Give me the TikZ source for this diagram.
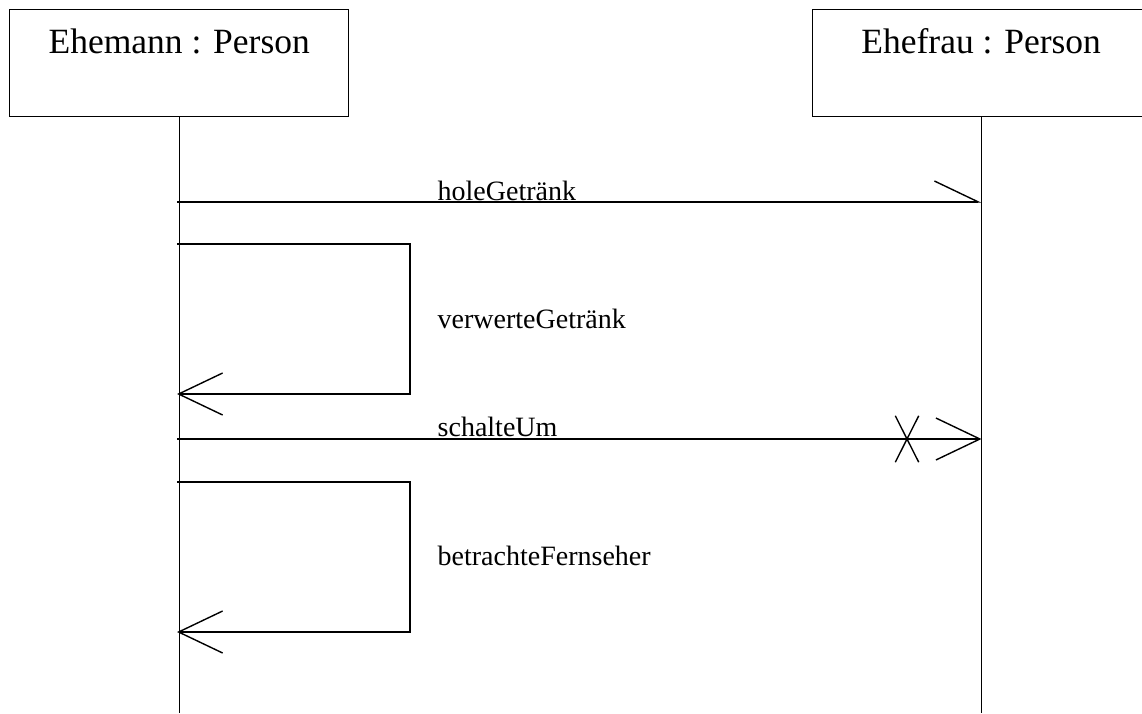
\documentclass[tikz,border=0pt]{standalone}
\usepackage{fontspec}
\setmainfont{Liberation Serif}
\usetikzlibrary{arrows.meta,positioning,shapes.misc}

\begin{document}
\begin{tikzpicture}[x=1pt,y=-1pt,line width=1.4pt,every node/.style={inner sep=0pt},
    objbox/.style={draw,anchor=north west,minimum height=107,text height=44,
      text depth=63,font=\fontsize{35.5}{40}\selectfont},
    msg/.style={anchor=base west,font=\fontsize{28}{30}\selectfont},
    open/.style={-{Straight Barb[length=44pt,width=42pt]}},
    half/.style={-{Straight Barb[left,length=44pt,width=42pt]}}]
    \useasboundingbox(0,0)rectangle(1142,713);
    \node[objbox,minimum width=339](mann)at(9,9){Ehemann : Person};
    \node[objbox,minimum width=337](frau)at(812,9){Ehefrau : Person};
    \coordinate(bottom)at(0,713);
    \draw(mann.south)--(mann.south|-bottom);
    \draw(frau.south)--(frau.south|-bottom);
    \foreach \n/\y in {a/202,b/244,c/394,d/439,e/482,f/632}
      {\coordinate(l\n)at(177,\y);\coordinate(r\n)at(981.5,\y);}
    \draw[half](la)--(ra);
    \draw[open](lb)--+(233,0)|-(lc);
    \draw[open](ld)--(rd);
    \draw[open](le)--+(233,0)|-(lf);
    \node[draw,cross out,minimum width=22,minimum height=45](stop)at(907,439){};
    \node[msg](hole)at(437,200){holeGetränk};
    \node[msg](verwerte)at(437,328){verwerteGetränk};
    \node[msg](schalte)at(437,436){schalteUm};
    \node[msg](betrachte)at(437,565){betrachteFernseher};
  \end{tikzpicture}
\end{document}
